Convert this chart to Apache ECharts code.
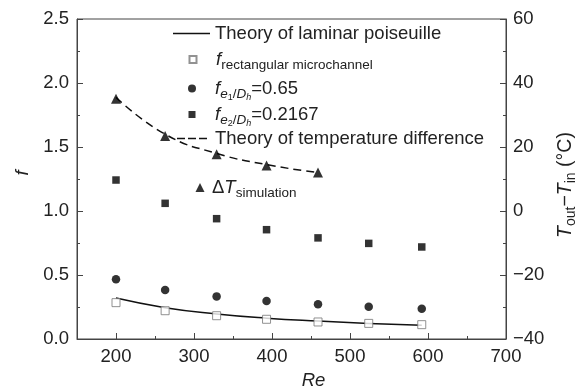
<!DOCTYPE html>
<html>
<head>
<meta charset="utf-8">
<script src="https://cdn.jsdelivr.net/npm/echarts@6/dist/echarts.min.js"></script>
<style>html,body{margin:0;padding:0;background:#fff}#c{width:583px;height:387px}</style>
</head>
<body>
<div id="c"></div>
<script>
// ---- data ----
var re = [200, 263, 329, 393, 459, 524, 592];
var fLaminar = [0.32, 0.245, 0.196, 0.163, 0.140, 0.122, 0.108];
var fRect = [0.284, 0.221, 0.182, 0.154, 0.133, 0.122, 0.112];
var fE1 = [0.466, 0.383, 0.333, 0.297, 0.271, 0.252, 0.237];
var fE2 = [1.242, 1.060, 0.940, 0.854, 0.790, 0.747, 0.719];
var reT = [200, 263, 329, 393, 459];
var tTheory = [35.5, 24.0, 18.0, 14.5, 12.0];
var tSim = [35.1, 23.4, 17.7, 14.2, 12.0];
var xTicks = [200, 300, 400, 500, 600, 700];

function pairs(xs, ys) { return xs.map(function (x, i) { return [x, ys[i]]; }); }

var FONT = 'Liberation Sans, Arial, sans-serif';
var FS = 18.5;
var TXT = '#222';
var AX = '#444';
var rich = {
  i: {fontFamily: FONT, fontSize: FS, fontStyle: 'italic', color: TXT},
  n: {fontFamily: FONT, fontSize: FS, color: TXT},
  s: {fontFamily: FONT, fontSize: 13.5, color: TXT, padding: [11, 0, 0, 0]},
  si: {fontFamily: FONT, fontSize: 13.5, fontStyle: 'italic', color: TXT, padding: [11, 0, 0, 0]},
  ss: {fontFamily: FONT, fontSize: 9, color: TXT, padding: [18, 0, 0, 0]},
  ssi: {fontFamily: FONT, fontSize: 9, fontStyle: 'italic', color: TXT, padding: [18, 0, 0, 0]}
};
var richR = {
  i: {fontFamily: FONT, fontSize: 19.5, fontStyle: 'italic', color: TXT},
  n: {fontFamily: FONT, fontSize: 19.5, color: TXT},
  s: {fontFamily: FONT, fontSize: 14, color: TXT, padding: [11, 0, 0, 0]}
};
var names = {
  lam: 'Theory of laminar poiseuille',
  rect: 'f rectangular microchannel',
  e1: 'f e1/Dh=0.65',
  e2: 'f e2/Dh=0.2167',
  tth: 'Theory of temperature difference',
  tsim: 'dT simulation'
};
var labels = {};
labels[names.lam] = '{n|Theory of laminar poiseuille}';
labels[names.rect] = '{i|f}{s|rectangular microchannel}';
labels[names.e1] = '{i|f}{si|e}{ss|1}{s|/}{si|D}{ssi|h}{n|=0.65}';
labels[names.e2] = '{i|f}{si|e}{ss|2}{s|/}{si|D}{ssi|h}{n|=0.2167}';
labels[names.tth] = '{n|Theory of temperature difference}';
labels[names.tsim] = '{n|\u0394}{i|T}{s|simulation}';

function leg(name, left, top, w, h, icon, padLeft) {
  var o = {
    data: [name], left: left, top: top, itemWidth: w, itemHeight: h, padding: 0,
    selectedMode: false,
    formatter: function (n) { return labels[n]; },
    textStyle: {fontFamily: FONT, fontSize: FS, color: TXT, rich: rich, padding: [0, 0, 0, padLeft || 0]}
  };
  if (icon) o.icon = icon;
  return o;
}

var chart = echarts.init(document.getElementById('c'), null, {renderer: 'canvas'});
chart.setOption({
  animation: false,
  backgroundColor: '#fff',
  grid: {left: 77, right: 77, top: 19, bottom: 48, show: true, borderColor: AX, borderWidth: 1,
    backgroundColor: 'transparent', containLabel: false, outerBoundsMode: 'none'},
  legend: [
    leg(names.lam, 173, 24, 37, 1.5, 'path://M0,0h37v1.5h-37z', 0),
    leg(names.rect, 188.5, 50, 7, 7, 'rect', 14.5),
    leg(names.e1, 188, 79, 8, 8, 'circle', 14),
    leg(names.e2, 188.5, 105, 7, 7, 'rect', 14.5),
    leg(names.tth, 177, 129, 30, 1.5, 'path://M0,0h8v1.5h-8zM11,0h8v1.5h-8zM22,0h8v1.5h-8z', 3),
    leg(names.tsim, 195.5, 178, 9, 9, 'triangle', 2.5)
  ],
  xAxis: [{
    type: 'value', min: 150, max: 700, interval: 50, position: 'bottom',
    name: 'Re', nameLocation: 'middle', nameGap: 26,
    nameTextStyle: {fontFamily: FONT, fontSize: FS, fontStyle: 'italic', color: TXT, padding: [0, 0, 0, 44]},
    axisLine: {show: true, onZero: false, lineStyle: {color: AX, width: 1}},
    axisTick: {show: true, inside: true, length: 3, lineStyle: {color: AX}},
    axisLabel: {customValues: xTicks, fontFamily: FONT, fontSize: FS, color: TXT, margin: 8},
    splitLine: {show: false}
  }, {
    type: 'value', min: 150, max: 700, interval: 50, position: 'bottom',
    axisLine: {show: false, onZero: false},
    axisTick: {show: true, inside: true, length: 6, customValues: xTicks, lineStyle: {color: AX}},
    axisLabel: {show: false},
    splitLine: {show: false}
  }],
  yAxis: [{
    type: 'value', min: 0, max: 2.5, interval: 0.5, position: 'left',
    name: 'f', nameLocation: 'middle', nameGap: 45, nameRotate: 90,
    nameTextStyle: {fontFamily: FONT, fontSize: FS, fontStyle: 'italic', color: TXT, padding: [0, 0, 0, 12]},
    axisLine: {show: true, onZero: false, lineStyle: {color: AX, width: 1}},
    axisTick: {show: true, inside: true, length: 6, lineStyle: {color: AX}},
    minorTick: {show: true, splitNumber: 2, length: 3, lineStyle: {color: AX}},
    axisLabel: {fontFamily: FONT, fontSize: FS, color: TXT, margin: 8, formatter: function (v) { return v.toFixed(1); }},
    splitLine: {show: false}, minorSplitLine: {show: false}
  }, {
    type: 'value', min: -40, max: 60, interval: 20, position: 'right',
    name: '{i|T}{s|out}{n|\u2212}{i|T}{s|in}{n| (\u00B0C)}', nameLocation: 'middle', nameGap: 45, nameRotate: 90,
    nameTextStyle: {fontFamily: FONT, fontSize: 19.5, color: TXT, rich: richR, padding: [0, 12, 0, 0]},
    axisLine: {show: true, onZero: false, lineStyle: {color: AX, width: 1}},
    axisTick: {show: true, inside: true, length: 6, lineStyle: {color: AX}},
    minorTick: {show: true, splitNumber: 2, length: 3, lineStyle: {color: AX}},
    axisLabel: {fontFamily: FONT, fontSize: FS, color: TXT, margin: 7, formatter: function (v) { return String(v).replace('-', '\u2212'); }},
    splitLine: {show: false}, minorSplitLine: {show: false}
  }],
  series: [{
    name: names.lam, type: 'line', xAxisIndex: 0, yAxisIndex: 0, data: pairs(re, fLaminar),
    smooth: true, symbol: 'none', lineStyle: {color: '#111', width: 1.5}, itemStyle: {color: '#111'}, z: 2
  }, {
    name: names.rect, type: 'scatter', xAxisIndex: 0, yAxisIndex: 0, data: pairs(re, fRect),
    symbol: 'rect', symbolSize: 8, itemStyle: {color: '#fff', borderColor: '#777', borderWidth: 1}, z: 3
  }, {
    name: names.e1, type: 'scatter', xAxisIndex: 0, yAxisIndex: 0, data: pairs(re, fE1),
    symbol: 'circle', symbolSize: 8.5, itemStyle: {color: '#000'}, z: 3
  }, {
    name: names.e2, type: 'scatter', xAxisIndex: 0, yAxisIndex: 0, data: pairs(re, fE2),
    symbol: 'rect', symbolSize: 7.5, itemStyle: {color: '#000'}, z: 3
  }, {
    name: names.tth, type: 'line', xAxisIndex: 0, yAxisIndex: 1, data: pairs(reT, tTheory),
    smooth: true, symbol: 'none', lineStyle: {color: '#111', width: 1.5, type: [8, 5]}, itemStyle: {color: '#111'}, z: 2
  }, {
    name: names.tsim, type: 'scatter', xAxisIndex: 0, yAxisIndex: 1, data: pairs(reT, tSim),
    symbol: 'triangle', symbolSize: 10, itemStyle: {color: '#000'}, z: 3
  }]
});
</script>
</body>
</html>
